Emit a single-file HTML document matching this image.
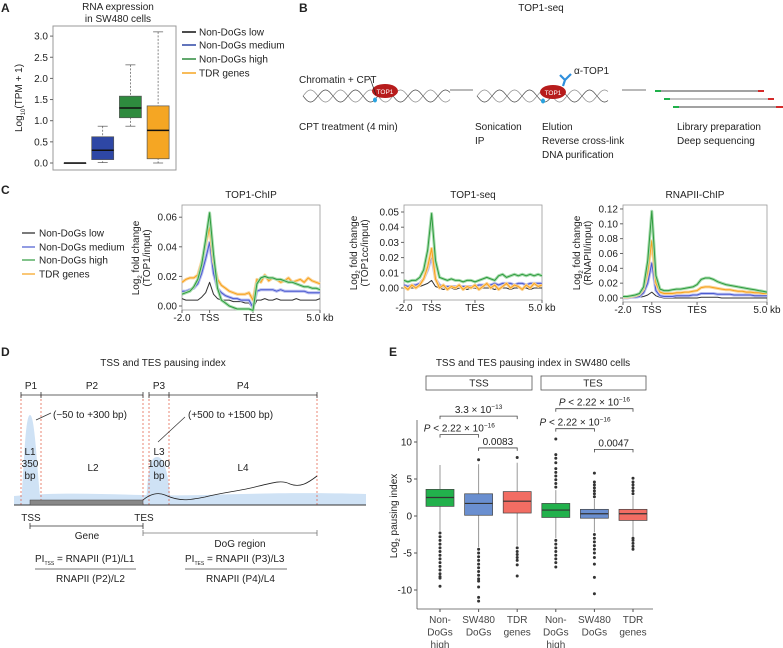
<!DOCTYPE html>
<html><head><meta charset="utf-8"><style>
html,body{margin:0;padding:0;background:#fff}
svg{display:block;font-family:"Liberation Sans",sans-serif;}
text{fill:#222}
</style></head><body>
<svg id="fig" width="783" height="648" viewBox="0 0 783 648" xmlns="http://www.w3.org/2000/svg">
<text x="1" y="12" font-size="12" font-weight="bold">A</text>
<text x="299" y="12" font-size="12" font-weight="bold">B</text>
<text x="1" y="194" font-size="12" font-weight="bold">C</text>
<text x="1" y="356" font-size="12" font-weight="bold">D</text>
<text x="389" y="356" font-size="12" font-weight="bold">E</text>

<g id="panelA">
<text x="118" y="10" font-size="10" text-anchor="middle">RNA expression</text>
<text x="118" y="22" font-size="10" text-anchor="middle">in SW480 cells</text>
<rect x="53" y="26" width="123" height="144" fill="none" stroke="#999" stroke-width="1"/>
<text transform="translate(22,98) rotate(-90)" font-size="10" text-anchor="middle">Log<tspan font-size="6" dy="3">10</tspan><tspan dy="-3">(TPM + 1)</tspan></text>
<g>
<line x1="182" y1="32" x2="196" y2="32" stroke="#111" stroke-width="1.5"/><text x="199" y="35.5" font-size="10">Non-DoGs low</text>
<line x1="182" y1="45" x2="196" y2="45" stroke="#2e47a5" stroke-width="1.5"/><text x="199" y="48.5" font-size="10">Non-DoGs medium</text>
<line x1="182" y1="59" x2="196" y2="59" stroke="#2e8b3e" stroke-width="1.5"/><text x="199" y="62.5" font-size="10">Non-DoGs high</text>
<line x1="182" y1="73" x2="196" y2="73" stroke="#f5a623" stroke-width="1.5"/><text x="199" y="76.5" font-size="10">TDR genes</text>
</g>
</g>

<g id="panelB">
<text x="541" y="11" font-size="10" text-anchor="middle">TOP1-seq</text>
<path id="helix1" d="" fill="none" stroke="#444" stroke-width="0.7"/>
<path id="helix1b" d="" fill="none" stroke="#888" stroke-width="0.7"/>
<path id="helix2" d="" fill="none" stroke="#444" stroke-width="0.7"/>
<path id="helix2b" d="" fill="none" stroke="#888" stroke-width="0.7"/>
<ellipse cx="385" cy="91" rx="13" ry="7" fill="#b71c1c"/>
<text x="385" y="94" font-size="6.5" text-anchor="middle" style="fill:#fff">TOP1</text>
<ellipse cx="375" cy="100" rx="2" ry="2.5" fill="#29a3e0"/>
<line x1="370" y1="78" x2="376" y2="95" stroke="#222" stroke-width="0.7"/>
<text x="299" y="83" font-size="10">Chromatin + CPT</text>
<ellipse cx="553" cy="92" rx="13" ry="7" fill="#b71c1c"/>
<text x="553" y="95" font-size="6.5" text-anchor="middle" style="fill:#fff">TOP1</text>
<ellipse cx="543" cy="101" rx="2" ry="2.5" fill="#29a3e0"/>
<path d="M563 86 L565 80 L560 75 M565 80 L571 74" fill="none" stroke="#2f8fdc" stroke-width="2.2"/>
<text x="574" y="74" font-size="10">α-TOP1</text>
<line x1="450" y1="90" x2="473" y2="90" stroke="#444" stroke-width="0.7"/>
<line x1="622" y1="90" x2="646" y2="90" stroke="#444" stroke-width="0.7"/>
<g>
<line x1="657" y1="91" x2="763" y2="91" stroke="#444" stroke-width="1"/><line x1="655" y1="91" x2="661" y2="91" stroke="#1fb04a" stroke-width="2"/><line x1="758" y1="91" x2="764" y2="91" stroke="#d42a2a" stroke-width="2"/>
<line x1="665" y1="99" x2="773" y2="99" stroke="#888" stroke-width="1"/><line x1="664" y1="99" x2="670" y2="99" stroke="#1fb04a" stroke-width="2"/><line x1="768" y1="99" x2="774" y2="99" stroke="#d42a2a" stroke-width="2"/>
<line x1="673" y1="107" x2="783" y2="107" stroke="#444" stroke-width="1"/><line x1="673" y1="107" x2="679" y2="107" stroke="#1fb04a" stroke-width="2"/><line x1="776" y1="107" x2="783" y2="107" stroke="#d42a2a" stroke-width="2"/>
</g>
<text x="299" y="130" font-size="10">CPT treatment (4 min)</text>
<text x="475" y="130" font-size="10">Sonication</text>
<text x="475" y="144" font-size="10">IP</text>
<text x="542" y="130" font-size="10">Elution</text>
<text x="542" y="144" font-size="10">Reverse cross-link</text>
<text x="542" y="158" font-size="10">DNA purification</text>
<text x="677" y="130" font-size="10">Library preparation</text>
<text x="677" y="144" font-size="10">Deep sequencing</text>
</g>

<g>
<line x1="22" y1="233" x2="35" y2="233" stroke="#222" stroke-width="1.2"/><text x="39" y="236.5" font-size="10">Non-DoGs low</text>
<line x1="22" y1="247" x2="35" y2="247" stroke="#4a5ad0" stroke-width="1.2"/><text x="39" y="250.5" font-size="10">Non-DoGs medium</text>
<line x1="22" y1="260" x2="35" y2="260" stroke="#2e9b3e" stroke-width="1.2"/><text x="39" y="263.5" font-size="10">Non-DoGs high</text>
<line x1="22" y1="274" x2="35" y2="274" stroke="#f7a21b" stroke-width="1.2"/><text x="39" y="277.5" font-size="10">TDR genes</text>
</g>
<g id="panelC"></g>

<g id="panelD">
<text x="163" y="366" font-size="10" text-anchor="middle">TSS and TES pausing index</text>
<path d="M14 496 C60 492 100 494 143 495 C200 497 260 491 366 494 L366 505 L14 505 Z" fill="#cfe2f5"/>
<path d="M21 505 C24 470 25 415 30 415 C35 415 37 470 41 505 Z" fill="#cfe2f5"/>
<path d="M146 505 C148 470 150 457 157 457 C164 457 168 470 171 505 Z" fill="#cfe2f5"/>
<g stroke="#e0553a" stroke-width="0.7" stroke-dasharray="2,2">
<line x1="21" y1="395" x2="21" y2="505"/><line x1="41" y1="395" x2="41" y2="505"/><line x1="143" y1="395" x2="143" y2="505"/><line x1="149" y1="395" x2="149" y2="505"/><line x1="169" y1="395" x2="169" y2="505"/><line x1="317" y1="395" x2="317" y2="505"/>
</g>
<line x1="14" y1="505" x2="366" y2="505" stroke="#333" stroke-width="1"/>
<rect x="30" y="500" width="113" height="5" fill="#888" stroke="#444" stroke-width="0.5"/>
<path d="M143 500 C150 494 158 492 165 495 C180 502 190 500 205 497 C225 492 240 491 255 487 C275 482 282 480 290 484 C300 488 308 483 317 476" fill="none" stroke="#222" stroke-width="0.8"/>
<g stroke="#333" stroke-width="0.8" fill="none">
<path d="M21 392 V398 M21 395 H41 M41 392 V398 H41 M41 395 H143 M143 392 V398"/>
<path d="M149 392 V398 M149 395 H169 M169 392 V398 M169 395 H317 M317 392 V398"/>
</g>
<text x="31" y="389" font-size="10" text-anchor="middle">P1</text>
<text x="92" y="389" font-size="10" text-anchor="middle">P2</text>
<text x="159" y="389" font-size="10" text-anchor="middle">P3</text>
<text x="243" y="389" font-size="10" text-anchor="middle">P4</text>
<line x1="36" y1="420" x2="51" y2="413" stroke="#333" stroke-width="0.7"/>
<text x="53" y="418" font-size="10">(−50 to +300 bp)</text>
<line x1="158" y1="442" x2="185" y2="417" stroke="#333" stroke-width="0.7"/>
<text x="188" y="418" font-size="10">(+500 to +1500 bp)</text>
<text x="30" y="455" font-size="10" text-anchor="middle">L1</text>
<text x="30" y="467" font-size="10" text-anchor="middle">350</text>
<text x="30" y="479" font-size="10" text-anchor="middle">bp</text>
<text x="93" y="471" font-size="10" text-anchor="middle">L2</text>
<text x="159" y="455" font-size="10" text-anchor="middle">L3</text>
<text x="159" y="467" font-size="10" text-anchor="middle">1000</text>
<text x="159" y="479" font-size="10" text-anchor="middle">bp</text>
<text x="243" y="471" font-size="10" text-anchor="middle">L4</text>
<text x="31" y="521" font-size="10" text-anchor="middle">TSS</text>
<text x="144" y="521" font-size="10" text-anchor="middle">TES</text>
<path d="M30 523 V529 M30 526 H143 M143 523 V529" stroke="#333" stroke-width="0.8" fill="none"/>
<text x="87" y="539" font-size="10" text-anchor="middle">Gene</text>
<path d="M143 530 V536 M143 533 H317 M317 530 V536" stroke="#777" stroke-width="0.8" fill="none"/>
<text x="240" y="547" font-size="10" text-anchor="middle">DoG region</text>
<text x="35" y="562" font-size="10">PI<tspan font-size="5" dy="3">TSS</tspan><tspan dy="-3"> = RNAPII (P1)/L1</tspan></text>
<line x1="35" y1="569" x2="136" y2="569" stroke="#444" stroke-width="0.8"/>
<text x="56" y="582" font-size="10">RNAPII (P2)/L2</text>
<text x="185" y="562" font-size="10">PI<tspan font-size="5" dy="3">TES</tspan><tspan dy="-3"> = RNAPII (P3)/L3</tspan></text>
<line x1="185" y1="569" x2="287" y2="569" stroke="#444" stroke-width="0.8"/>
<text x="206" y="582" font-size="10">RNAPII (P4)/L4</text>
</g>

<g id="panelE">
<text x="533" y="366" font-size="10" text-anchor="middle">TSS and TES pausing index in SW480 cells</text>
<rect x="426" y="376" width="106" height="14" fill="#fff" stroke="#555" stroke-width="0.8"/>
<text x="479" y="386.5" font-size="10" text-anchor="middle">TSS</text>
<rect x="541" y="376" width="105" height="14" fill="#fff" stroke="#555" stroke-width="0.8"/>
<text x="593" y="386.5" font-size="10" text-anchor="middle">TES</text>
<text transform="translate(397,516) rotate(-90)" font-size="10" text-anchor="middle">Log<tspan font-size="6" dy="3">2</tspan><tspan dy="-3"> pausing index</tspan></text>
</g>

<script>
// ---------- Panel A data ----------
const aGroups = ['Non-DoGs low','Non-DoGs medium','Non-DoGs high','TDR genes'];
const aQ1 = [0.0, 0.08, 1.07, 0.10];
const aMedian = [0.0, 0.30, 1.30, 0.77];
const aQ3 = [0.0, 0.62, 1.58, 1.35];
const aWhiskLow = [0.0, 0.01, 0.87, 0.0];
const aWhiskHigh = [0.0, 0.87, 2.32, 3.10];
const aTicks = [0.0, 0.5, 1.0, 1.5, 2.0, 2.5, 3.0];

// ---------- Panel C data (36 bins: -2 kb .. TSS(bin 7) .. TES(bin 18) .. +5 kb) ----------
const cTicksX = ['-2.0','TSS','TES','5.0 kb'];
const chipGreen = [0.008,0.009,0.010,0.013,0.018,0.028,0.045,0.063,0.035,0.012,0.004,0.002,0.000,-0.001,-0.002,-0.002,-0.002,-0.002,-0.003,0.015,0.019,0.020,0.019,0.019,0.018,0.018,0.017,0.016,0.016,0.015,0.014,0.013,0.013,0.012,0.012,0.011];
const chipOrange = [0.016,0.018,0.019,0.019,0.021,0.030,0.042,0.053,0.030,0.018,0.014,0.012,0.010,0.009,0.008,0.008,0.008,0.009,0.004,0.018,0.016,0.021,0.017,0.019,0.018,0.016,0.017,0.019,0.016,0.017,0.018,0.016,0.019,0.017,0.016,0.015];
const chipBlue = [0.010,0.010,0.011,0.012,0.015,0.022,0.032,0.043,0.022,0.012,0.009,0.007,0.006,0.005,0.005,0.004,0.004,0.004,-0.001,0.010,0.011,0.011,0.011,0.011,0.010,0.011,0.010,0.010,0.010,0.010,0.010,0.010,0.009,0.009,0.009,0.009];
const chipBlack = [0.005,0.004,0.004,0.004,0.004,0.006,0.009,0.016,0.008,0.005,0.004,0.004,0.004,0.003,0.003,0.003,0.002,0.002,-0.002,0.004,0.004,0.005,0.004,0.004,0.005,0.004,0.004,0.004,0.004,0.005,0.004,0.004,0.004,0.004,0.004,0.005];
const chipTicks = [0.00,0.02,0.04,0.06];

const seqGreen = [0.005,0.004,0.005,0.005,0.007,0.012,0.025,0.049,0.018,0.007,0.006,0.005,0.006,0.005,0.005,0.004,0.005,0.005,0.004,0.005,0.006,0.007,0.006,0.005,0.008,0.009,0.007,0.008,0.009,0.008,0.009,0.008,0.009,0.008,0.009,0.008];
const seqOrange = [0.001,-0.001,0.002,0.000,0.002,0.006,0.014,0.026,0.006,0.000,0.002,-0.001,0.001,0.000,0.002,-0.001,0.001,0.000,0.002,-0.001,0.001,0.003,0.000,0.002,-0.001,0.001,0.003,0.000,0.002,0.001,-0.001,0.002,0.000,0.003,0.001,0.002];
const seqBlue = [0.002,0.001,0.002,0.002,0.003,0.006,0.012,0.021,0.006,0.002,0.001,0.001,0.001,0.001,0.001,0.001,0.001,0.001,0.001,0.002,0.002,0.002,0.002,0.003,0.002,0.003,0.003,0.003,0.002,0.003,0.003,0.002,0.003,0.003,0.003,0.003];
const seqBlack = [0.000,0.000,0.000,0.000,0.001,0.002,0.003,0.005,0.001,0.000,-0.001,0.000,0.000,-0.001,0.000,0.000,-0.001,0.000,0.000,-0.001,0.000,0.000,0.000,-0.001,0.000,0.000,0.000,-0.001,0.000,0.000,0.000,0.000,-0.001,0.000,0.000,0.000];
const seqTicks = [0.00,0.01,0.02,0.03,0.04,0.05];

const polGreen = [0.002,0.002,0.003,0.004,0.006,0.015,0.050,0.117,0.030,0.012,0.010,0.010,0.011,0.012,0.012,0.013,0.014,0.015,0.018,0.025,0.027,0.027,0.025,0.022,0.020,0.018,0.017,0.016,0.015,0.014,0.013,0.012,0.011,0.010,0.009,0.008];
const polOrange = [0.001,0.001,0.002,0.003,0.005,0.012,0.035,0.077,0.020,0.008,0.006,0.006,0.006,0.007,0.007,0.008,0.008,0.009,0.010,0.014,0.015,0.015,0.014,0.013,0.012,0.011,0.011,0.010,0.009,0.009,0.008,0.008,0.007,0.007,0.006,0.006];
const polBlue = [0.000,0.000,0.001,0.001,0.002,0.007,0.020,0.047,0.010,0.003,0.002,0.002,0.002,0.003,0.003,0.003,0.003,0.004,0.004,0.006,0.006,0.006,0.006,0.005,0.005,0.005,0.005,0.004,0.004,0.004,0.004,0.004,0.003,0.003,0.003,0.003];
const polBlack = [0.000,0.000,0.000,0.000,0.001,0.002,0.004,0.008,0.003,0.001,0.000,0.000,0.000,0.000,0.000,0.000,0.000,0.000,0.000,0.001,0.001,0.001,0.001,0.001,0.000,0.000,0.000,0.000,0.000,0.000,0.000,0.000,0.000,0.000,0.000,0.000];
const polTicks = [0.00,0.02,0.04,0.06,0.08,0.10,0.12];

// ---------- Panel E data ----------
const eGroups = ['Non-DoGs high','SW480 DoGs','TDR genes','Non-DoGs high','SW480 DoGs','TDR genes'];
const eQ1 = [1.3, 0.1, 0.4, -0.2, -0.3, -0.6];
const eMedian = [2.5, 1.7, 2.0, 0.8, 0.3, 0.3];
const eQ3 = [3.6, 3.0, 3.3, 1.7, 0.9, 0.9];
const eWhiskLow = [-2.0, -4.2, -4.0, -3.0, -2.2, -2.8];
const eWhiskHigh = [6.9, 7.0, 7.2, 3.5, 2.3, 2.7];
const eOutLow = [[-2.3,-2.8,-3.3,-3.8,-4.3,-4.8,-5.3,-5.8,-6.3,-6.8,-7.3,-7.8,-8.2,-8.4,-9.5],[-4.5,-5,-5.5,-6,-6.5,-7,-7.5,-8,-8.5,-8.8,-9.6,-11,-11.5],[-4.3,-4.8,-5.2,-5.6,-6,-6.6,-8.1],[-3.3,-3.8,-4.3,-4.8,-5.3,-5.8,-6.3,-6.9],[-2.5,-3,-3.5,-4,-4.5,-5,-5.6,-6.5,-8.3,-10.5],[-3.0,-3.3,-3.7,-4.1,-4.5]];
const eOutHigh = [[],[7.6],[7.9],[3.9,4.4,4.9,5.4,5.9,6.4,7.2,7.8,8.3,10.4],[2.6,3.0,3.4,3.8,4.2,4.6,5.8],[3.0,3.4,3.8,4.2,4.6,5.1]];
const eColors = ['#22b14c','#6a8fd0','#f26d63','#22b14c','#6a8fd0','#f26d63'];
const eTicks = [-10,-5,0,5,10];
const eCompLabels = ['3.3 × 10','P < 2.22 × 10','0.0083','P < 2.22 × 10','P < 2.22 × 10','0.0047'];
const eCompExp = ['−13','−16','','−16','−16',''];
const eCompFrom = [0,0,1,3,3,4];
const eCompTo = [2,1,2,5,4,5];
const eCompLevel = [13.5,11.0,9.2,14.5,11.8,9.0];

const NS='http://www.w3.org/2000/svg';
function mk(tag, attrs, parent){const e=document.createElementNS(NS,tag);for(const k in attrs)e.setAttribute(k,attrs[k]);parent.appendChild(e);return e;}
function ts(parent, txt, attrs){const t=mk('tspan',attrs||{},parent);t.textContent=txt;return t;}

// ---- Panel A draw ----
(function(){
  const g=document.getElementById('panelA');
  const y=v=>163-v*42.3;
  const xs=i=>75+i*27.7;
  const cols=['#111','#2e47a5','#2e8b3e','#f5a623'];
  aTicks.forEach(t=>{
    mk('line',{x1:50,x2:53,y1:y(t),y2:y(t),stroke:'#666'},g);
    const tx=mk('text',{x:48,y:y(t)+3.5,'font-size':10,'text-anchor':'end'},g);tx.textContent=t.toFixed(1);
    
    
  });
  aGroups.forEach((n,i)=>{
    const cx=xs(i), w=22;
    mk('line',{x1:cx,x2:cx,y1:y(aWhiskHigh[i]),y2:y(aWhiskLow[i]),stroke:'#555','stroke-dasharray':'2,1.5','stroke-width':0.7},g);
    mk('line',{x1:cx-5,x2:cx+5,y1:y(aWhiskHigh[i]),y2:y(aWhiskHigh[i]),stroke:'#555','stroke-width':0.7},g);
    mk('line',{x1:cx-5,x2:cx+5,y1:y(aWhiskLow[i]),y2:y(aWhiskLow[i]),stroke:'#555','stroke-width':0.7},g);
    const r=mk('rect',{x:cx-w/2,y:y(aQ3[i]),width:w,height:Math.max(0.5,y(aQ1[i])-y(aQ3[i])),fill:cols[i],stroke:'#555','stroke-width':0.7},g);
    
    
    mk('line',{x1:cx-w/2,x2:cx+w/2,y1:y(aMedian[i]),y2:y(aMedian[i]),stroke:'#111','stroke-width':1.5},g);
  });
})();

// ---- Panel B helices ----
(function(){
  function helix(x0,x1,yc,amp,per,phase){let d='';for(let x=x0;x<=x1;x+=1){const yy=yc+amp*Math.sin((x-x0)/per*2*Math.PI+phase);d+=(x===x0?'M':'L')+x+' '+yy.toFixed(1)+' ';}return d;}
  document.getElementById('helix1').setAttribute('d',helix(303,450,96,6,30,0));
  document.getElementById('helix1b').setAttribute('d',helix(303,450,96,6,30,Math.PI));
  document.getElementById('helix2').setAttribute('d',helix(477,608,96,6,30,0));
  document.getElementById('helix2b').setAttribute('d',helix(477,608,96,6,30,Math.PI));
})();

// ---- Panel C draw ----
(function(){
  const g=document.getElementById('panelC');
  const nb=36;
  const plots=[
    {title:'TOP1-ChIP',x0:182,x1:320,top:205,bot:310,zero:306,per01:14.8,ticks:chipTicks,series:[chipBlack,chipBlue,chipOrange,chipGreen],ylab:'(TOP1/input)',lx:139,ly:258},
    {title:'TOP1-seq',x0:404,x1:542,top:205,bot:300,zero:288,per01:15.2,ticks:seqTicks,series:[seqBlack,seqBlue,seqOrange,seqGreen],ylab:'(TOP1cc/input)',lx:357,ly:253},
    {title:'RNAPII-ChIP',x0:623,x1:767,top:205,bot:302,zero:298,per01:7.42,ticks:polTicks,series:[polBlack,polBlue,polOrange,polGreen],ylab:'(RNAPII/input)',lx:580,ly:253}
  ];
  const cols=['#333','#4a5ad0','#f7a21b','#2e9b3e'];
  const band=['none','#b8bdf0','#fbd49a','#a8dcae'];
  plots.forEach((p,pi)=>{
    const xs=i=>p.x0+i*(p.x1-p.x0)/(nb-1);
    const ys=v=>p.zero-v*100*p.per01;
    const fr=mk('rect',{x:p.x0,y:p.top,width:p.x1-p.x0,height:p.bot-p.top,fill:'none',stroke:'#999','stroke-width':0.8},g);
    
    
    const t=mk('text',{x:(p.x0+p.x1)/2,y:198,'font-size':10,'text-anchor':'middle'},g);t.textContent=p.title;
    
    
    p.ticks.forEach(v=>{
      mk('line',{x1:p.x0-3,x2:p.x0,y1:ys(v),y2:ys(v),stroke:'#666'},g);
      const tx=mk('text',{x:p.x0-5,y:ys(v)+3.5,'font-size':10,'text-anchor':'end'},g);tx.textContent=v.toFixed(2);
      
      
    });
    const xi=[0,7,18,35];
    cTicksX.forEach((l,k)=>{
      const X=xs(xi[k]);
      mk('line',{x1:X,x2:X,y1:p.bot,y2:p.bot+3,stroke:'#666'},g);
      const tx=mk('text',{x:X,y:p.bot+11,'font-size':10,'text-anchor':'middle'},g);tx.textContent=l;
      
      
    });
    const yl=mk('text',{transform:`translate(${p.lx},${p.ly}) rotate(-90)`,'font-size':10,'text-anchor':'middle'},g);
    ts(yl,'Log'); ts(yl,'2',{'font-size':6,dy:3}); ts(yl,' fold change',{dy:-3});
    
    
    const yl2=mk('text',{transform:`translate(${p.lx+11},${p.ly}) rotate(-90)`,'font-size':10,'text-anchor':'middle'},g);yl2.textContent=p.ylab;
    
    
    p.series.forEach((s,si)=>{
      let d='';
      s.forEach((v,i)=>{d+=(i?'L':'M')+xs(i).toFixed(1)+' '+ys(v).toFixed(1)+' ';});
      if(band[si]!=='none'){mk('path',{d:d,fill:'none',stroke:band[si],'stroke-width':3,'stroke-linejoin':'round'},g);}
      const ln=mk('path',{d:d,fill:'none',stroke:cols[si],'stroke-width':1,'stroke-linejoin':'round'},g);
      
      
    });
  });
})();

// ---- Panel E draw ----
(function(){
  const g=document.getElementById('panelE');
  const y=v=>516-v*7.4;
  const xs=i=>440+i*38.6;
  mk('line',{x1:417,x2:417,y1:420,y2:609,stroke:'#555','stroke-width':0.8},g);
  mk('line',{x1:417,x2:653,y1:609,y2:609,stroke:'#555','stroke-width':0.8},g);
  eTicks.forEach(t=>{
    mk('line',{x1:414,x2:417,y1:y(t),y2:y(t),stroke:'#555'},g);
    const tx=mk('text',{x:412,y:y(t)+3.5,'font-size':10,'text-anchor':'end'},g);tx.textContent=String(t);
    
    
  });
  const lab=[['Non-','DoGs','high'],['SW480','DoGs'],['TDR','genes']];
  eGroups.forEach((n,i)=>{
    const cx=xs(i), w=28;
    mk('line',{x1:cx,x2:cx,y1:609,y2:612,stroke:'#555'},g);
    lab[i%3].forEach((l,k)=>{const tx=mk('text',{x:cx,y:623+k*12.5,'font-size':10,'text-anchor':'middle',style:'fill:#444'},g);tx.textContent=l;
      
      });
    mk('line',{x1:cx,x2:cx,y1:y(eWhiskHigh[i]),y2:y(eWhiskLow[i]),stroke:'#999','stroke-width':1},g);
    const r=mk('rect',{x:cx-w/2,y:y(eQ3[i]),width:w,height:y(eQ1[i])-y(eQ3[i]),fill:eColors[i],stroke:'#444','stroke-width':0.7},g);
    
    
    mk('line',{x1:cx-w/2,x2:cx+w/2,y1:y(eMedian[i]),y2:y(eMedian[i]),stroke:'#333','stroke-width':1.2},g);
    eOutLow[i].concat(eOutHigh[i]).forEach(v=>{const c=mk('circle',{cx:cx,cy:y(v),r:1.5,fill:'#333'},g);
      
      });
  });
  eCompLabels.forEach((l,k)=>{
    const a=xs(eCompFrom[k]), b=xs(eCompTo[k]), yy=y(eCompLevel[k]);
    const br=mk('path',{d:`M${a} ${yy+3} V${yy} H${b} V${yy+3}`,fill:'none',stroke:'#444','stroke-width':0.8},g);
    
    
    const tx=mk('text',{x:(a+b)/2,y:yy-3,'font-size':10,'text-anchor':'middle'},g);
    if(l.startsWith('P')){ ts(tx,'P',{'font-style':'italic'}); ts(tx,l.slice(1)); } else ts(tx,l);
    if(eCompExp[k]) ts(tx,eCompExp[k],{'font-size':6.5,dy:-4});
    
    
  });
})();
</script>
</svg>
</body></html>
